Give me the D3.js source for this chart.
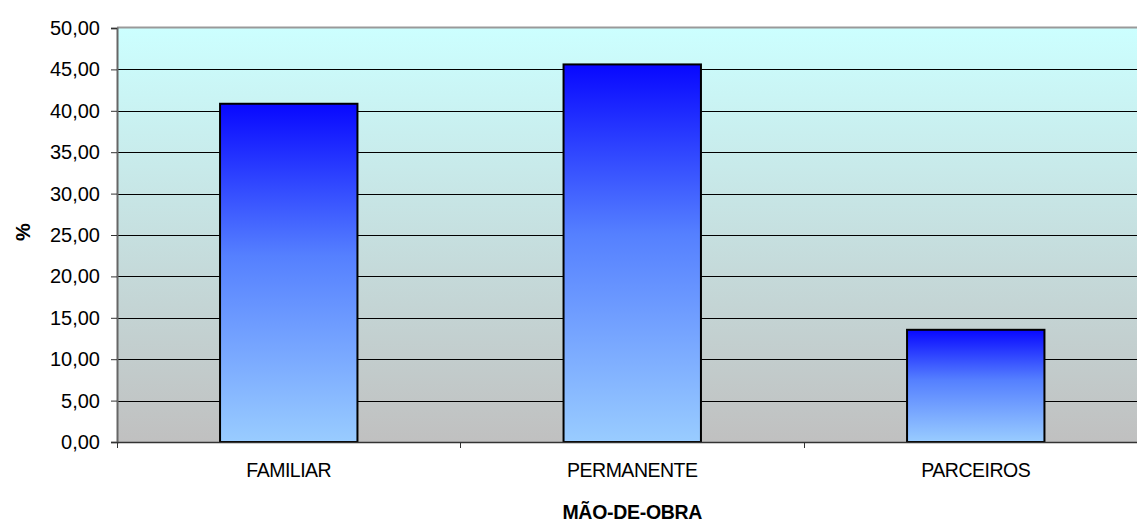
<!DOCTYPE html>
<html>
<head>
<meta charset="utf-8">
<script src="https://cdn.jsdelivr.net/npm/d3@7"></script>
<style>
  html, body { margin: 0; padding: 0; background: #ffffff; }
  svg { display: block; font-family: "Liberation Sans", Arial, sans-serif; }
</style>
</head>
<body>
<svg id="chart" width="1137" height="523"></svg>
<script>
const categories = ["FAMILIAR", "PERMANENTE", "PARCEIROS"];
const values = [40.85, 45.6, 13.55];
const yTicks = [0, 5, 10, 15, 20, 25, 30, 35, 40, 45, 50];
const xTitle = "MÃO-DE-OBRA";
const yTitle = "%";

const svg = d3.select("#chart");
const m = { left: 117, right: 1147.5, top: 28, bottom: 442 };

const x = d3.scaleBand().domain(categories).range([m.left, m.right]).paddingInner(0.6).paddingOuter(0.3);
const y = d3.scaleLinear().domain([0, 50]).range([m.bottom, m.top]);

const defs = svg.append("defs");
const bg = defs.append("linearGradient").attr("id", "bg").attr("x1", 0).attr("y1", 0).attr("x2", 0).attr("y2", 1);
bg.append("stop").attr("offset", "0%").attr("stop-color", "#CCFFFF");
bg.append("stop").attr("offset", "100%").attr("stop-color", "#C0C0C0");

const bar = defs.append("linearGradient").attr("id", "bar").attr("x1", 0).attr("y1", 0).attr("x2", 0).attr("y2", 1);
bar.append("stop").attr("offset", "0%").attr("stop-color", "#0808FF");
bar.append("stop").attr("offset", "45%").attr("stop-color", "#5580FF");
bar.append("stop").attr("offset", "100%").attr("stop-color", "#99CCFF");

// plot background
svg.append("rect")
  .attr("x", m.left).attr("y", m.top)
  .attr("width", m.right - m.left).attr("height", m.bottom - m.top)
  .attr("fill", "url(#bg)");

// gridlines
svg.append("g").selectAll("line").data(yTicks.filter(d => d > 0 && d < 50)).join("line")
  .attr("x1", m.left).attr("x2", m.right)
  .attr("y1", d => Math.round(y(d)) + 0.5).attr("y2", d => Math.round(y(d)) + 0.5)
  .attr("stroke", "#000").attr("stroke-width", 1);

// top border
svg.append("line").attr("x1", m.left).attr("x2", m.right)
  .attr("y1", m.top - 0.5).attr("y2", m.top - 0.5)
  .attr("stroke", "#999").attr("stroke-width", 2);

// bars
svg.append("g").selectAll("rect").data(categories).join("rect")
  .attr("x", d => x(d))
  .attr("y", (d, i) => y(values[i]))
  .attr("width", x.bandwidth())
  .attr("height", (d, i) => y(0) - y(values[i]))
  .attr("fill", "url(#bar)")
  .attr("stroke", "#000").attr("stroke-width", 2);

// y axis
const yAxis = d3.axisLeft(y).tickValues(yTicks).tickSize(6).tickPadding(11)
  .tickFormat(d => d3.format(".2f")(d).replace(".", ","));
const gy = svg.append("g").attr("transform", `translate(${m.left},0)`).call(yAxis);
gy.select(".domain").attr("stroke", "#666").attr("stroke-width", 2);
gy.selectAll(".tick line").attr("stroke", "#333");
gy.selectAll("text").attr("font-size", "20px").attr("fill", "#000")
  .attr("font-family", "'Liberation Sans', Arial, sans-serif");

// x axis
const xAxis = d3.axisBottom(x).tickSize(0).tickPadding(21);
const gx = svg.append("g").attr("transform", `translate(0,${m.bottom})`).call(xAxis);
gx.select(".domain").attr("stroke", "#333").attr("stroke-width", 1.5);
gx.selectAll("text").attr("font-size", "19.5px").attr("fill", "#000")
  .attr("letter-spacing", "-0.5px")
  .attr("font-family", "'Liberation Sans', Arial, sans-serif");

// category boundary ticks
const bounds = [m.left, ...categories.slice(1).map(c => x(c) - x.step() * x.paddingInner() / 2)];
svg.append("g").selectAll("line").data(bounds).join("line")
  .attr("x1", d => Math.round(d) + 0.5).attr("x2", d => Math.round(d) + 0.5)
  .attr("y1", m.bottom).attr("y2", m.bottom + 6)
  .attr("stroke", "#333");

// titles
svg.append("text")
  .attr("x", (m.left + m.right) / 2).attr("y", 519)
  .attr("text-anchor", "middle")
  .attr("font-size", "19.5px").attr("font-weight", "bold")
  .attr("letter-spacing", "-0.3px")
  .text(xTitle);

svg.append("text")
  .attr("transform", `translate(30,232) rotate(-90)`)
  .attr("text-anchor", "middle")
  .attr("font-size", "20px").attr("font-weight", "bold")
  .text(yTitle);
</script>
</body>
</html>
